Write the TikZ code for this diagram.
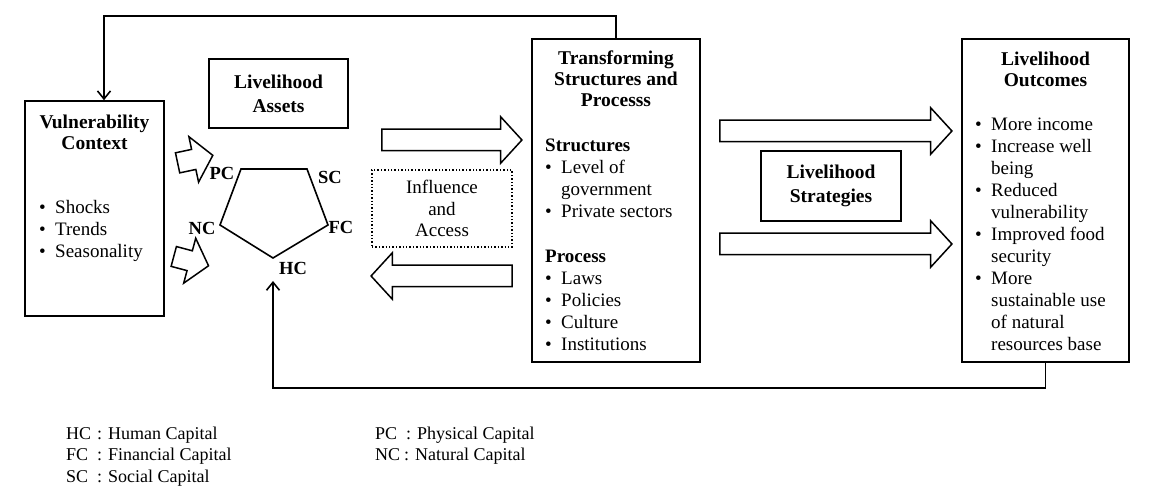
\documentclass[tikz,border=0pt]{standalone}
\usepackage{fontspec}
\setmainfont{Liberation Serif}
\usetikzlibrary{shapes.arrows,arrows.meta}

\newcommand{\itm}{\makebox[16pt][l]{\textbullet}}
\newcommand{\ind}{\hspace*{16pt}}

\begin{document}
\begin{tikzpicture}[x=1pt,y=-1pt,
	every node/.style={inner sep=0pt, font=\fontsize{19}{22}\selectfont},
	box/.style={draw, line width=1.6pt, align=center, font=\bfseries\fontsize{19.5}{24}\selectfont},
	dotbox/.style={draw, dotted, line width=1.4pt, align=center, font=\fontsize{19}{21.5}\selectfont},
	title/.style={align=center, font=\bfseries\fontsize{19.5}{21}\selectfont},
	list/.style={anchor=west, align=left},
	caplabel/.style={font=\bfseries\fontsize{18.5}{22}\selectfont},
	legend/.style={anchor=west, font=\fontsize{18}{21}\selectfont},
	edge/.style={line width=1.6pt, line join=miter},
	feedback/.style={line width=1.6pt, -{Straight Barb[length=8pt,width=13pt]}},
	bigarrow/.style={draw, line width=1.5pt, single arrow, minimum height=#1,
		inner xsep=0pt, inner ysep=10pt, single arrow head extend=12.5pt,
		single arrow tip angle=95},
	smallarrow/.style={draw, line width=1.5pt, single arrow, minimum height=36pt,
		inner xsep=0pt, inner ysep=9.5pt, single arrow head extend=13pt,
		single arrow tip angle=100}]
	\useasboundingbox (0,0) rectangle (1150,502);

	\node[box, minimum width=139pt, minimum height=215pt] (vul) at (94.5,208.5) {};
	\node[title] (vultitle) at (94.5,132) {Vulnerability\\Context};
	\node[list] (vullist) at (39,231) {\itm Shocks\\ \itm Trends\\ \itm Seasonality};

	\node[box, minimum width=139pt, minimum height=69pt] (assets) at (278.5,93.5) {Livelihood\\Assets};

	\node[box, minimum width=168pt, minimum height=323pt] (trans) at (616,200.5) {};
	\node[title] (transtitle) at (616,79) {Transforming\\Structures and\\Processs};
	\node[list] (struct) at (545,178.5) {\textbf{Structures}\\ \itm Level of\\ \ind government\\ \itm Private sectors};
	\node[list] (proc) at (545,300.5) {\textbf{Process}\\ \itm Laws\\ \itm Policies\\ \itm Culture\\ \itm Institutions};

	\node[dotbox, minimum width=140pt, minimum height=77pt] (infl) at (442,208.5) {Influence\\and\\Access};

	\node[box, minimum width=140pt, minimum height=70pt] (strat) at (831,186) {Livelihood\\Strategies};

	\node[box, minimum width=167pt, minimum height=323pt] (outc) at (1045.5,200.5) {};
	\node[title] (outctitle) at (1045.5,69) {Livelihood\\Outcomes};
	\node[list] (outclist) at (975,234) {\itm More income\\ \itm Increase well\\ \ind being\\ \itm Reduced\\ \ind vulnerability\\ \itm Improved food\\ \ind security\\ \itm More\\ \ind sustainable use\\ \ind of natural\\ \ind resources base};

	\coordinate (pcv) at (241,169);
	\coordinate (scv) at (307,169);
	\coordinate (fcv) at (328,225);
	\coordinate (hcv) at (273,258);
	\coordinate (ncv) at (220,225);
	\draw[edge] (pcv) -- (scv) -- (fcv) -- (hcv) -- (ncv) -- cycle;
	\node[caplabel] (pc) at (222,173) {PC};
	\node[caplabel] (sc) at (330,177) {SC};
	\node[caplabel] (fc) at (341,227) {FC};
	\node[caplabel] (nc) at (202,228) {NC};
	\node[caplabel] (hc) at (293,268) {HC};

	\node[smallarrow, rotate=12] (vul1) at (191,160) {};
	\node[smallarrow, rotate=-15] (vul2) at (187,260) {};

	\node[bigarrow=140pt] (toTrans) at (447,140) {};
	\node[bigarrow=141pt, shape border rotate=180] (toAssets) at (446.5,276) {};
	\node[bigarrow=232pt] (toOutc1) at (831,131) {};
	\node[bigarrow=232pt] (toOutc2) at (831,244) {};

	\coordinate (hcin) at (273,281);
	\draw[feedback] (trans.north) -- ++(0,-22) -| ([xshift=9.5pt]vul.north);
	\draw[feedback] (outc.south) -- ++(0,25) -| (hcin);

	\node[legend] (lhc) at (66,435) {\makebox[31pt][l]{HC}: Human Capital};
	\node[legend] (lfc) at (66,456) {\makebox[31pt][l]{FC}: Financial Capital};
	\node[legend] (lsc) at (66,478) {\makebox[31pt][l]{SC}: Social Capital};
	\node[legend] (lpc) at (375,435) {\makebox[31pt][l]{PC}: Physical Capital};
	\node[legend] (lnc) at (375,456) {\makebox[29pt][l]{NC}: Natural Capital};
\end{tikzpicture}
\end{document}
